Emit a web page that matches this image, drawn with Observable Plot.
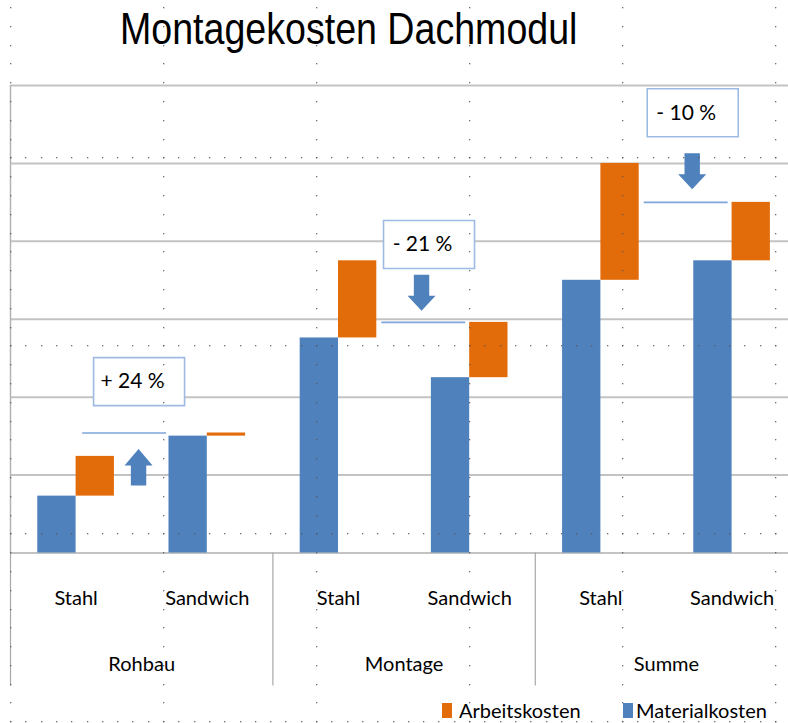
<!DOCTYPE html>
<html>
<head>
<meta charset="utf-8">
<script src="https://cdn.jsdelivr.net/npm/d3@7"></script>
<script src="https://cdn.jsdelivr.net/npm/@observablehq/plot@0.6"></script>
<style>
  html, body { margin: 0; padding: 0; background: #fff; }
  #wrap { position: relative; width: 788px; height: 723px; overflow: hidden; background: #fff; }
  #title { position: absolute; left: 120px; top: 6px; font-family: "Liberation Sans", Arial, sans-serif;
           font-size: 45px; line-height: 45px; white-space: nowrap; color: #000;
           transform: scaleX(0.835); transform-origin: 0 0; }
  #chart { position: absolute; left: 0; top: 70px; }
  .leg { position: absolute; top: 700px; font-family: Lato, sans-serif; font-size: 20px; line-height: 20px; color: #000; white-space: nowrap; }
  .sw { position: absolute; top: 703px; width: 10px; height: 15px; }
  #dots { position: absolute; left: 0; top: 0; pointer-events: none; }
</style>
</head>
<body>
<div id="wrap">
  <div id="title">Montagekosten Dachmodul</div>
  <div id="chart"></div>
  <div id="legend"></div>
</div>
<script>
// ---- data ----
const groups = ["Rohbau", "Montage", "Summe"];
const types = ["Stahl", "Sandwich"];
const materialkosten = [7.3, 15.0, 27.6, 22.5, 35.0, 37.5];   // Rohbau Stahl, Rohbau Sandwich, Montage Stahl, ...
const arbeitskosten  = [5.1, 0.4, 9.9, 7.1, 15.0, 7.5];
const gridValues = [0, 10, 20, 30, 40, 50, 60];
const seriesNames = ["Arbeitskosten", "Materialkosten"];
const seriesColors = ["#e36c0a", "#4f81bd"];

// annotation placement (layout, in category-index / value units)
const noteLayout = [
  {lineFrom: 0.05, lineTo: 0.69, boxX: 0.48, boxY: 22.0, arrowX: 0.476, arrowY: 11.0},
  {lineFrom: 0.33, lineTo: 0.97, boxX: 0.69, boxY: 39.6, arrowX: 0.633, arrowY: 33.4},
  {lineFrom: 0.33, lineTo: 0.97, boxX: 0.70, boxY: 56.5, arrowX: 0.696, arrowY: 49.0}
];

const rows = d3.cross(groups, types).map(([g, t], i) => ({
  group: g, type: t, i, m: materialkosten[i], a: arbeitskosten[i]
}));

const notes = groups.map((g, k) => {
  const s = rows[2 * k], w = rows[2 * k + 1];
  const ts = s.m + s.a, tw = w.m + w.a;
  const pct = Math.round((tw / ts - 1) * 100);
  return {group: g, i: s.i, level: tw, up: pct > 0,
          label: (pct > 0 ? "+ " : "- ") + Math.abs(pct) + " %", ...noteLayout[k]};
});

const hw = 0.292; // half of the bar-pair width in category units

const boxSymbol = { draw(ctx) { ctx.rect(-45.5, -24, 91, 48); } };
const upArrow = { draw(ctx) {
  ctx.moveTo(0, -18.3); ctx.lineTo(14, -1.7); ctx.lineTo(7.7, -1.7); ctx.lineTo(7.7, 18.3);
  ctx.lineTo(-7.7, 18.3); ctx.lineTo(-7.7, -1.7); ctx.lineTo(-14, -1.7); ctx.closePath(); } };
const downArrow = { draw(ctx) {
  ctx.moveTo(0, 18); ctx.lineTo(14, 3); ctx.lineTo(7.7, 3); ctx.lineTo(7.7, -18);
  ctx.lineTo(-7.7, -18); ctx.lineTo(-7.7, 3); ctx.lineTo(-14, 3); ctx.closePath(); } };

const blue = seriesColors[1], orange = seriesColors[0];

const plot = Plot.plot({
  width: 788,
  height: 620,
  marginTop: 15,
  marginBottom: 137.5,
  marginLeft: 10,
  marginRight: 0,
  style: {fontFamily: "Lato, sans-serif", fontSize: "20px", color: "#000", background: "transparent", overflow: "visible"},
  x: {type: "linear", domain: [-0.5, 5.43], label: null},
  y: {domain: [0, 60], axis: null, label: null},
  marks: [
    Plot.ruleY(gridValues, {stroke: "#c3c3c3", strokeWidth: 2}),
    Plot.ruleX([-0.5], {stroke: "#b3b3b3", strokeWidth: 1.5}),
    Plot.rect(rows, {x1: d => d.i - hw, x2: "i", y1: 0, y2: "m", fill: blue}),
    Plot.rect(rows, {x1: "i", x2: d => d.i + hw, y1: "m", y2: d => d.m + d.a, fill: orange}),
    Plot.ruleY(notes, {y: "level", x1: d => d.i + d.lineFrom, x2: d => d.i + d.lineTo, stroke: "#7ea6d8", strokeWidth: 1.6}),
    Plot.dot(notes, {x: d => d.i + d.boxX, y: "boxY", r: 10, symbol: boxSymbol, fill: "white", stroke: "#9dbbe2", strokeWidth: 1.6}),
    Plot.text(notes, {x: d => d.i + d.boxX, y: "boxY", text: "label", dx: -6.5, fontSize: 21, fontFamily: "Lato, sans-serif", fill: "#000"}),
    Plot.dot(notes.filter(d => d.up), {x: d => d.i + d.arrowX, y: "arrowY", r: 10, symbol: upArrow, fill: blue, stroke: "none"}),
    Plot.dot(notes.filter(d => !d.up), {x: d => d.i + d.arrowX, y: "arrowY", r: 10, symbol: downArrow, fill: blue, stroke: "none"}),
    Plot.axisX({ticks: rows.map(d => d.i), tickFormat: i => rows[i].type, tickSize: 0, tickPadding: 38, label: null, fill: "#000"}),
    Plot.axisX({ticks: notes.map(d => d.i + 0.5), tickFormat: t => groups[(t - 0.5) / 2], tickSize: 0, tickPadding: 104, label: null, fill: "#000"}),
    Plot.axisX({ticks: notes.map(d => d.i - 0.5), tickFormat: () => "", tickSize: 133, label: null, stroke: "#a8a8a8", strokeWidth: 1.2})
  ]
});
document.getElementById("chart").appendChild(plot);

// legend (HTML, below the SVG)
const legend = document.getElementById("legend");
const legPos = [{sw: 442, tx: 459}, {sw: 623, tx: 636}];
seriesNames.forEach((name, k) => {
  const sw = document.createElement("div");
  sw.className = "sw"; sw.style.left = legPos[k].sw + "px"; sw.style.background = seriesColors[k];
  const tx = document.createElement("div");
  tx.className = "leg"; tx.style.left = legPos[k].tx + "px"; tx.textContent = name;
  legend.appendChild(sw); legend.appendChild(tx);
});

// page-layout dot grid overlay (decoration from the spreadsheet view)
const ov = d3.select("#wrap").append("svg").attr("id", "dots").attr("width", 788).attr("height", 723);
const pts = [];
for (let c = 0; c < 6; c++) for (let y = 6.9; y < 723; y += 18.8) pts.push([10 + c * 153, y]);
for (let r = 0; r < 4; r++) for (let x = 10; x < 788; x += 15.3) pts.push([x, 157.3 + r * 188]);
ov.selectAll("rect").data(pts).join("rect")
  .attr("x", d => Math.round(d[0])).attr("y", d => Math.round(d[1]))
  .attr("width", 1.3).attr("height", 1.3).attr("fill", "#555").attr("opacity", 0.85);
</script>
</body>
</html>
